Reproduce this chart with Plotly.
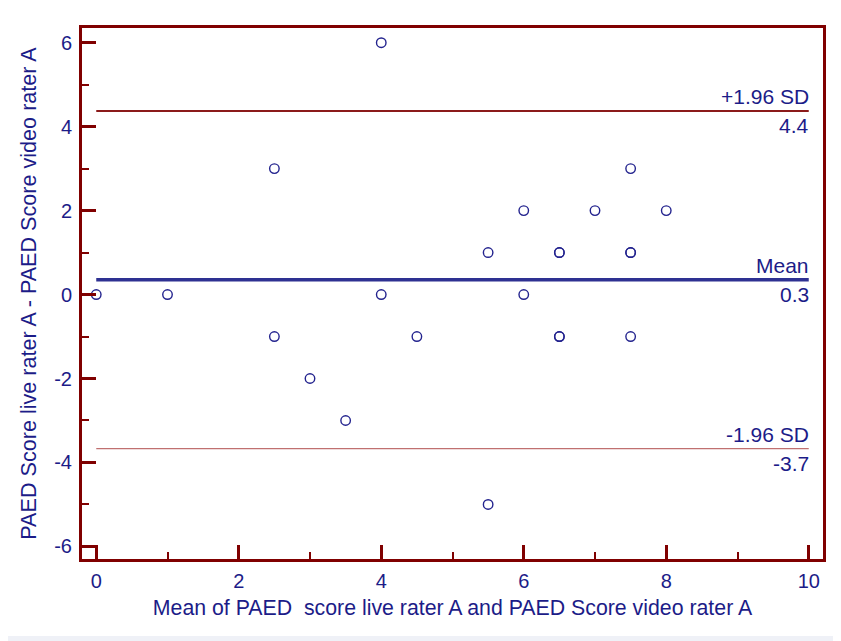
import plotly.graph_objects as go

# Data: mean of the two raters (x) vs difference (y)
x_mean = [0, 1, 2.5, 2.5, 3, 3.5, 4, 4, 4.5, 5.5, 5.5, 6, 6, 6.5, 6.5, 6.5, 6.5, 7, 7.5, 7.5, 7.5, 7.5, 8]
y_diff = [0, 0, 3, -1, -2, -3, 6, 0, -1, 1, -5, 2, 0, 1, 1, -1, -1, 2, 3, 1, 1, -1, 2]

line_names = ["+1.96 SD", "Mean", "-1.96 SD"]
line_values = [4.37, 0.35, -3.67]
line_labels = ["4.4", "0.3", "-3.7"]
line_colors = ["#8b1a1a", "#2e3192", "#c07070"]
line_widths = [2, 3.5, 1.3]
line_x = [0, 10]

x_ticks = [0, 2, 4, 6, 8, 10]
x_tick_labels = ["0", "2", "4", "6", "8", "10"]
y_ticks = [-6, -4, -2, 0, 2, 4, 6]
y_tick_labels = ["-6", "-4", "-2", "0", "2", "4", "6"]

TXT = "#1c1c88"
AX = "#800000"
FONT = "Liberation Sans, Arial, sans-serif"

fig = go.Figure()

for name, v, c, w in zip(line_names, line_values, line_colors, line_widths):
    fig.add_trace(go.Scatter(x=line_x, y=[v, v], mode="lines",
                             line=dict(color=c, width=w), hoverinfo="skip",
                             showlegend=False))

fig.add_trace(go.Scatter(x=x_mean, y=y_diff, mode="markers",
                         marker=dict(symbol="circle-open", size=9.5,
                                     color="#23238e", line=dict(width=1.4)),
                         showlegend=False))

for name, v, lab in zip(line_names, line_values, line_labels):
    fig.add_annotation(x=10, y=v, xref="x", yref="y", text=name, showarrow=False,
                       xanchor="right", yanchor="bottom", yshift=1, xshift=2,
                       font=dict(size=21, color=TXT, family=FONT))
    fig.add_annotation(x=10, y=v, xref="x", yref="y", text=lab, showarrow=False,
                       xanchor="right", yanchor="top", yshift=-1, xshift=2,
                       font=dict(size=21, color=TXT, family=FONT))

axis_common = dict(showline=True, linewidth=3, linecolor=AX, mirror=True,
                   ticks="inside", ticklen=14, tickwidth=3, tickcolor=AX,
                   showgrid=False, zeroline=False,
                   tickfont=dict(size=20, color=TXT, family=FONT))

fig.update_xaxes(range=[-0.2, 10.2], tickvals=x_ticks, ticktext=x_tick_labels,
                 minor=dict(tickvals=[1, 3, 5, 7, 9], ticklen=7, tickwidth=2,
                            tickcolor=AX, ticks="inside"),
                 ticklabelstandoff=2,
                 title=dict(text="Mean of PAED  score live rater A and PAED Score video rater A",
                            font=dict(size=21.3, color=TXT, family=FONT), standoff=10),
                 **axis_common)
fig.update_yaxes(range=[-6.3, 6.35], tickvals=y_ticks, ticktext=y_tick_labels,
                 minor=dict(tickvals=[-5, -3, -1, 1, 3, 5], ticklen=7, tickwidth=2,
                            tickcolor=AX, ticks="inside"),
                 ticklabelstandoff=3,
                 title=dict(text="PAED Score live rater A - PAED Score video rater A",
                            font=dict(size=21.6, color=TXT, family=FONT), standoff=12),
                 **axis_common)

# page has an 8px body margin; layout expressed in figure coordinates
W, H = 841, 641
L, R, T, B = 74, 26, 20, 90
pw, ph = W - L - R, H - T - B
def px(xp):
    return (xp - L) / pw
def py(yp):
    return (H - B - yp) / ph
fig.add_shape(type="rect", xref="paper", yref="paper", layer="below",
              x0=px(-10), x1=px(828), y0=py(628), y1=py(-10),
              fillcolor="white", line=dict(width=0))

fig.update_layout(width=W, height=H, margin=dict(l=L, r=R, t=T, b=B),
                  paper_bgcolor="#eff1f7", plot_bgcolor="white",
                  font=dict(family=FONT, color=TXT))

fig.write_html("out.html")
